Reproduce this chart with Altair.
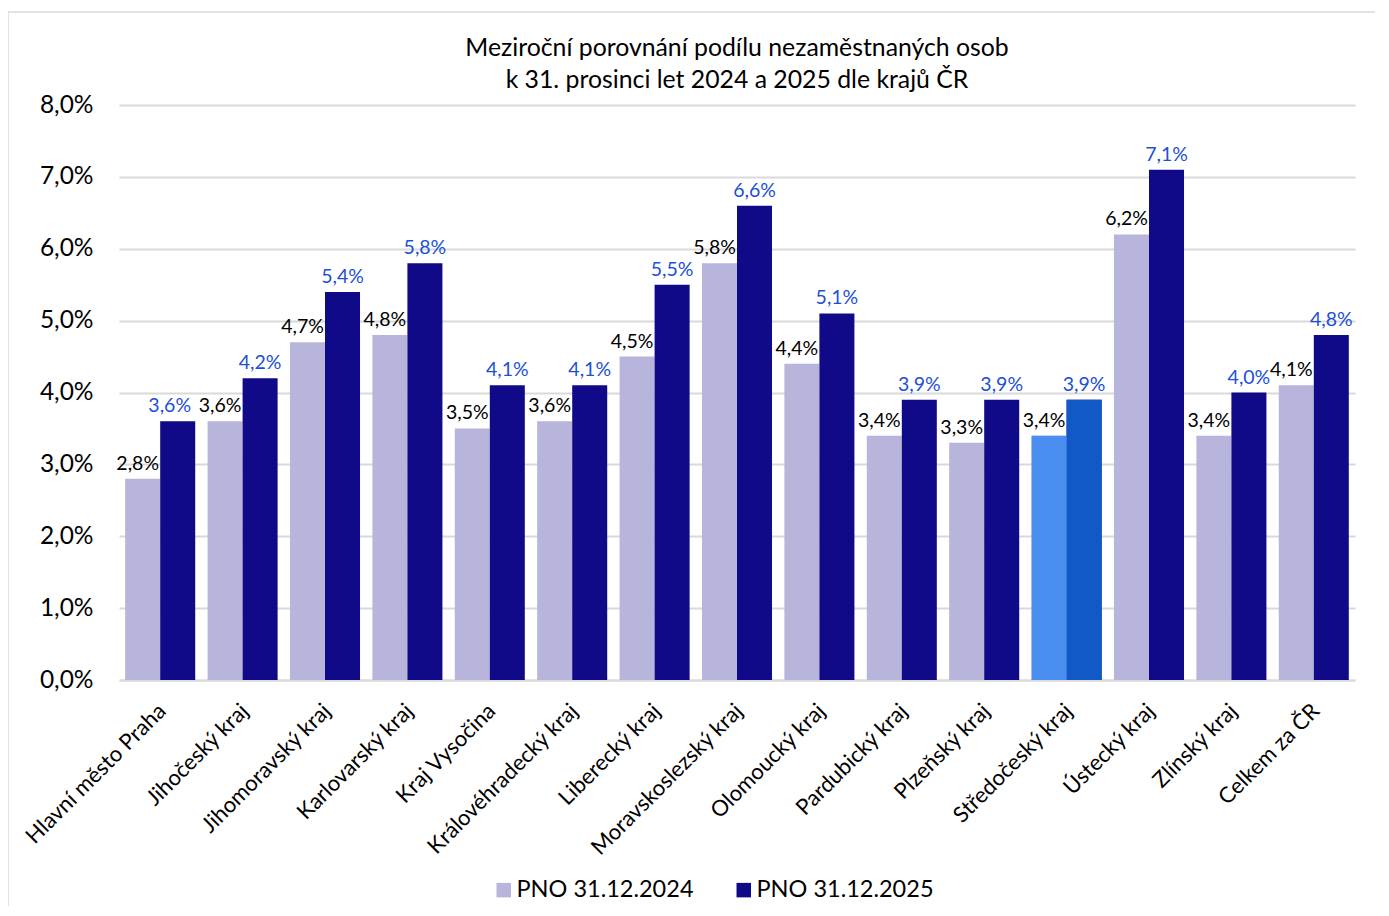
import altair as alt
import pandas as pd

regions = [
    "Hlavní město Praha", "Jihočeský kraj", "Jihomoravský kraj", "Karlovarský kraj",
    "Kraj Vysočina", "Královéhradecký kraj", "Liberecký kraj", "Moravskoslezský kraj",
    "Olomoucký kraj", "Pardubický kraj", "Plzeňský kraj", "Středočeský kraj",
    "Ústecký kraj", "Zlínský kraj", "Celkem za ČR",
]
pno_2024 = [2.8, 3.6, 4.7, 4.8, 3.5, 3.6, 4.5, 5.8, 4.4, 3.4, 3.3, 3.4, 6.2, 3.4, 4.1]
pno_2025 = [3.6, 4.2, 5.4, 5.8, 4.1, 4.1, 5.5, 6.6, 5.1, 3.9, 3.9, 3.9, 7.1, 4.0, 4.8]
series_names = ["PNO 31.12.2024", "PNO 31.12.2025"]
series_colors = ["#b7b5db", "#100a88"]
highlight_region = "Středočeský kraj"
highlight_colors = ["#4a8ff0", "#1059c6"]
label_colors = ["#000000", "#1c4fd8"]
shifted_label_region = "Hlavní město Praha"

rows = []
for i, r in enumerate(regions):
    for s, vals in enumerate([pno_2024, pno_2025]):
        v = vals[i]
        rows.append({
            "region": r,
            "series": series_names[s],
            "value": v,
            "label": f"{v:.1f}".replace(".", ",") + "%",
            "lcolor": label_colors[s],
            "hcolor": highlight_colors[s],
        })
df = pd.DataFrame(rows)

W, H = 1236, 575
FONT = "Lato"

x = alt.X(
    "region:N", sort=regions,
    scale=alt.Scale(paddingInner=0.15, paddingOuter=0.075),
    axis=alt.Axis(title=None, labelAngle=-45, labelFontSize=22, labelFont=FONT,
                  labelColor="black", domainColor="#d9d9d9", domainWidth=2,
                  ticks=False, labelPadding=20, labelLimit=400, labelOffset=-5),
)
xoff = alt.XOffset("series:N", sort=series_names,
                   scale=alt.Scale(paddingInner=0, paddingOuter=0))
y = alt.Y(
    "value:Q",
    scale=alt.Scale(domain=[0, 8], nice=False),
    axis=alt.Axis(title=None, values=[0, 1, 2, 3, 4, 5, 6, 7, 8],
                  labelExpr="replace(format(datum.value, '.1f'), '.', ',') + '%'",
                  labelFontSize=24.5, labelFont=FONT, labelColor="black",
                  labelPadding=26, ticks=False, domain=False,
                  gridColor="#d9d9d9", gridWidth=2),
)

base = alt.Chart(df)

bars = base.mark_bar().encode(
    x=x, xOffset=xoff, y=y,
    color=alt.Color("series:N", sort=series_names,
                    scale=alt.Scale(domain=series_names, range=series_colors),
                    legend=alt.Legend(title=None, orient="none", direction="horizontal",
                                      legendX=373, legendY=773, symbolType="square",
                                      symbolSize=210, symbolStrokeWidth=0,
                                      labelFontSize=23.5, labelFont=FONT,
                                      labelColor="black", columnPadding=38,
                                      labelOffset=1, labelLimit=400)),
)

hl = base.transform_filter(alt.datum.region == highlight_region).mark_bar().encode(
    x=x, xOffset=xoff, y=y,
    color=alt.Color("hcolor:N", scale=None),
)

def text_layer(filter_expr, dx):
    return base.transform_filter(filter_expr).mark_text(
        dy=-9, dx=dx, baseline="alphabetic", fontSize=19.5, font=FONT
    ).encode(
        x=x, xOffset=xoff, y=y, text="label:N",
        color=alt.Color("lcolor:N", scale=None),
    )

labels_2024 = text_layer(alt.datum.series == series_names[0], -5)
labels_2025 = text_layer(
    (alt.datum.series == series_names[1]) & (alt.datum.region != shifted_label_region), 0)
labels_2025_shift = text_layer(
    (alt.datum.series == series_names[1]) & (alt.datum.region == shifted_label_region), -8)

frame = alt.Chart(pd.DataFrame({"a": [0]})).mark_rect(
    fill=None, stroke="#d9d9d9", strokeWidth=1.5
).encode(
    x=alt.value(-111), x2=alt.value(1300), y=alt.value(-93), y2=alt.value(860),
)

chart = alt.layer(frame, bars, hl, labels_2024, labels_2025, labels_2025_shift).properties(
    width=W, height=H,
    background="white",
    title=alt.TitleParams(
        ["Meziroční porovnání podílu nezaměstnaných osob",
         "k 31. prosinci let 2024 a 2025 dle krajů ČR"],
        fontSize=24.8, font=FONT, fontWeight="normal", anchor="middle",
        lineHeight=32, offset=0, dy=82, color="black", frame="group",
    ),
    autosize=alt.AutoSizeParams(type="none"),
    padding={"left": 111, "top": 97, "right": 20, "bottom": 226},
).configure_view(stroke=None)

chart.save("out.html", embed_options={"renderer": "svg", "actions": False})
